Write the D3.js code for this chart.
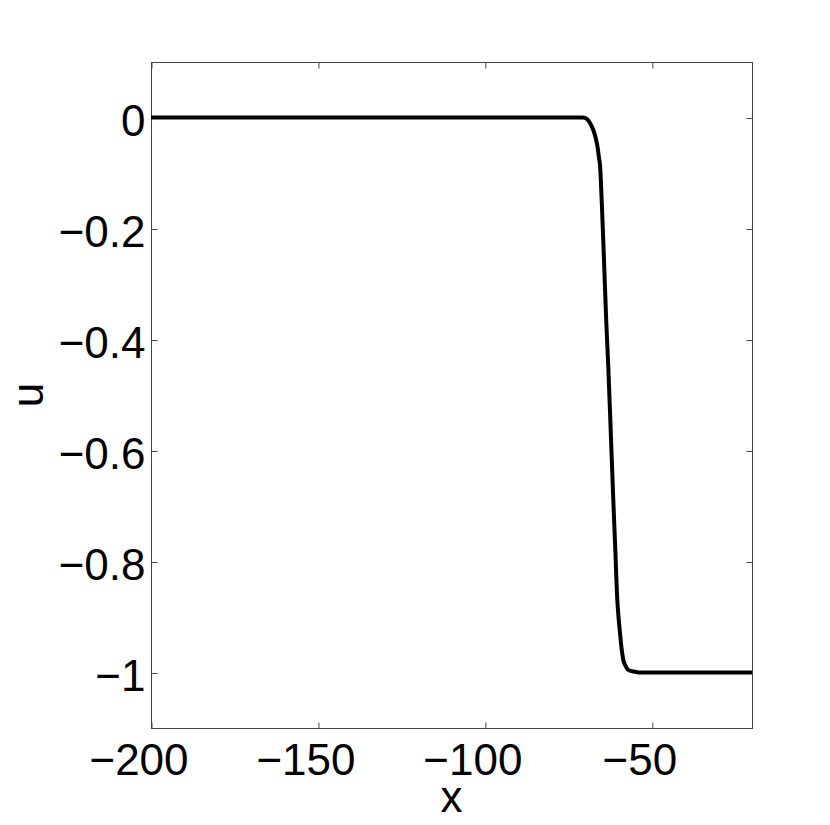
<!DOCTYPE html>
<html>
<head>
<meta charset="utf-8">
<script src="https://cdn.jsdelivr.net/npm/d3@7"></script>
<style>
  html, body { margin: 0; padding: 0; background: #fff; }
  svg { display: block; }
  text { font-family: "Liberation Sans", Arial, Helvetica, sans-serif; fill: #000; }
</style>
</head>
<body>
<svg id="chart" width="830" height="825"></svg>
<script>
// ---- data ----
const xValues = [-200, -72, -70.62, -69.42, -68.52, -67.53, -66.81, -66.21, -65.82, -65.52, -65.02, -64.33, -63.67, -63.04, -62.29, -61.54, -60.94, -60.34, -59.98, -59.53, -59.08, -58.54, -57.88, -57.04, -55.04, -53.54, -20];
const uValues = [0, 0, 0, -0.0027, -0.0099, -0.0225, -0.0369, -0.055, -0.073, -0.0856, -0.1486, -0.2568, -0.3649, -0.449, -0.5685, -0.6892, -0.7793, -0.8694, -0.900, -0.9288, -0.9559, -0.9775, -0.988, -0.9955, -0.9986, -1.0, -1.0];
const xTicks = [-200, -150, -100, -50];
const yTicks = [0, -0.2, -0.4, -0.6, -0.8, -1];
const xDomain = [-200, -20];
const yDomain = [-1.1, 0.1];
const xLabel = "x";
const yLabel = "u";

// ---- layout ----
const pL = 151, pR = 752, pT = 62, pB = 728;
const fontSize = 44;
const svg = d3.select("#chart");
const x = d3.scaleLinear().domain(xDomain).range([pL, pR]);
const y = d3.scaleLinear().domain(yDomain).range([pB, pT]);
const fmt = v => v === 0 ? "0" : (v < 0 ? "\u2212" : "") + d3.format("")(Math.abs(v));

// box
svg.append("rect")
  .attr("x", pL + 0.5).attr("y", pT + 0.5)
  .attr("width", pR - pL).attr("height", pB - pT)
  .attr("fill", "none").attr("stroke", "#444").attr("stroke-width", 1);

const tickLen = 6;
// x ticks (bottom & top, inward)
const xAxisB = d3.axisBottom(x).tickValues(xTicks).tickSize(-tickLen).tickPadding(15).tickFormat(fmt);
const gxb = svg.append("g").attr("transform", `translate(0.5,${pB + 0.5})`).call(xAxisB);
gxb.select(".domain").remove();
gxb.selectAll("line").attr("stroke", "#444");
gxb.selectAll("text").attr("font-size", fontSize).attr("dy", "0.71em").attr("dx", -13);

const xAxisT = d3.axisTop(x).tickValues(xTicks).tickSize(-tickLen).tickFormat("");
const gxt = svg.append("g").attr("transform", `translate(0.5,${pT + 0.5})`).call(xAxisT);
gxt.select(".domain").remove();
gxt.selectAll("line").attr("stroke", "#444");

// y ticks (left & right, inward)
const yAxisL = d3.axisLeft(y).tickValues(yTicks).tickSize(-tickLen).tickPadding(6).tickFormat(fmt);
const gyl = svg.append("g").attr("transform", `translate(${pL + 0.5},0.5)`).call(yAxisL);
gyl.select(".domain").remove();
gyl.selectAll("line").attr("stroke", "#444");
gyl.selectAll("text").attr("font-size", fontSize).attr("dy", "0.4em");

const yAxisR = d3.axisRight(y).tickValues(yTicks).tickSize(-tickLen).tickFormat("");
const gyr = svg.append("g").attr("transform", `translate(${pR + 0.5},0.5)`).call(yAxisR);
gyr.select(".domain").remove();
gyr.selectAll("line").attr("stroke", "#444");

// curve
const pts = xValues.map((xv, i) => [xv, uValues[i]]);
const line = d3.line().x(d => x(d[0])).y(d => y(d[1])).curve(d3.curveMonotoneX);
svg.append("path")
  .attr("d", line(pts))
  .attr("fill", "none").attr("stroke", "#000").attr("stroke-width", 4)
  .attr("stroke-linejoin", "round");

// axis labels
svg.append("text").attr("x", (pL + pR) / 2).attr("y", 812)
  .attr("text-anchor", "middle").attr("font-size", fontSize).text(xLabel);
svg.append("text").attr("transform", `translate(43,${(pT + pB) / 2}) rotate(-90)`)
  .attr("text-anchor", "middle").attr("font-size", fontSize).text(yLabel);
</script>
</body>
</html>
